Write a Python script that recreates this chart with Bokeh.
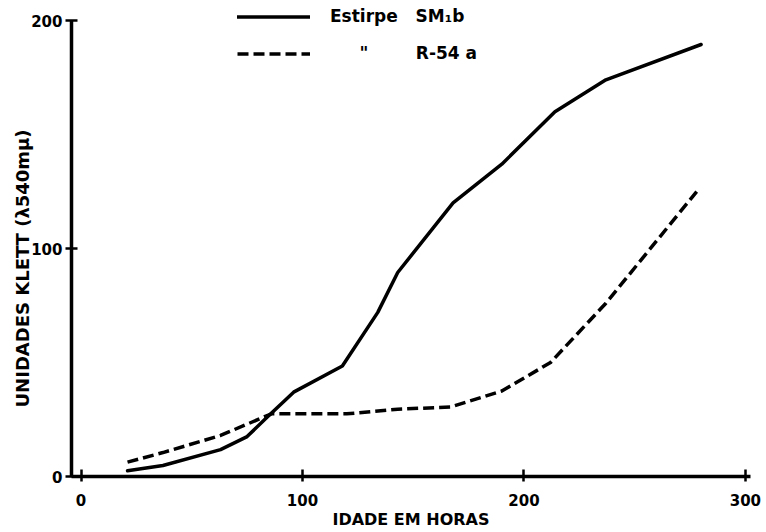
from bokeh.plotting import figure
from bokeh.models import FixedTicker, Legend, LegendItem, Range1d, Title
from bokeh.embed import file_html
from bokeh.resources import INLINE

# Data
hours_sm1b = [21, 37, 63, 75, 84, 96, 118, 134, 143, 168, 190, 214, 237, 280]
klett_sm1b = [2.5, 4.8, 11.8, 17.5, 26, 37, 48.5, 72, 89.5, 120, 137, 160, 174, 189.5]

hours_r54a = [21, 37, 63, 86, 120, 143, 167, 190, 212, 237, 278]
klett_r54a = [6.3, 10.5, 18, 27.5, 27.5, 29.5, 30.5, 37.5, 50, 76, 125]

x_ticks = [0, 100, 200, 300]
y_ticks = [0, 100, 200]

NB = "\u00a0"
label_sm1b = "Estirpe " + NB * 2 + "SM\u2081b"
label_r54a = NB * 5 + '"' + NB * 8 + "R-54 a"
x_title = "IDADE EM HORAS"
y_title = "UNIDADES KLETT (\u03bb540m\u03bc)"

FONT = "DejaVu Sans"

p = figure(width=766, height=532,
           x_range=Range1d(-4.3, 302.3), y_range=Range1d(0, 208.8),
           output_backend="svg", toolbar_location=None,
           min_border_left=71, min_border_right=16,
           min_border_top=0, min_border_bottom=56)
p.outline_line_color = None
p.xgrid.visible = False
p.ygrid.visible = False
p.background_fill_color = "white"
p.border_fill_color = "white"

p.xaxis.ticker = FixedTicker(ticks=x_ticks)
p.yaxis.ticker = FixedTicker(ticks=y_ticks)
for ax in (p.xaxis[0], p.yaxis[0]):
    ax.axis_line_width = 3.5
    ax.axis_line_color = "black"
    ax.major_tick_line_width = 2.5
    ax.major_tick_line_color = "black"
    ax.minor_tick_line_color = None
    ax.major_label_text_font = FONT
    ax.major_label_text_font_style = "bold"
    ax.major_label_text_font_size = "15px"
    ax.major_label_text_color = "black"

p.xaxis.major_tick_in = 7
p.xaxis.major_tick_out = 5
p.xaxis.major_label_standoff = 12
p.xaxis.axis_label = x_title
p.xaxis.axis_label_standoff = 1
p.xaxis.axis_label_text_font = FONT
p.xaxis.axis_label_text_font_style = "bold"
p.xaxis.axis_label_text_font_size = "16px"
p.xaxis.axis_label_text_color = "black"

p.yaxis.major_tick_in = 6
p.yaxis.major_tick_out = 6
p.yaxis.major_label_standoff = 3
p.yaxis.bounds = (0, 200)

ytitle = Title(text=y_title, align="left", offset=69, standoff=-10,
               vertical_align="middle", text_font=FONT, text_font_style="bold",
               text_font_size="18px", text_color="black")
p.add_layout(ytitle, "left")

r1 = p.line(hours_sm1b, klett_sm1b, line_width=3.5, line_color="black",
            line_join="round", line_cap="round")
r2 = p.line(hours_r54a, klett_r54a, line_width=3.5, line_color="black",
            line_dash="11 5", line_join="round")

legend = Legend(items=[LegendItem(label=label_sm1b, renderers=[r1]),
                       LegendItem(label=label_r54a, renderers=[r2])],
                location=(166, 413), orientation="vertical",
                glyph_width=73, glyph_height=19, label_height=19,
                spacing=17, label_standoff=20, padding=0, margin=0,
                border_line_color=None, background_fill_alpha=0,
                label_text_font=FONT, label_text_font_style="bold",
                label_text_font_size="17px", label_text_color="black")
p.add_layout(legend)

open("out.html", "w").write(file_html(p, INLINE))
